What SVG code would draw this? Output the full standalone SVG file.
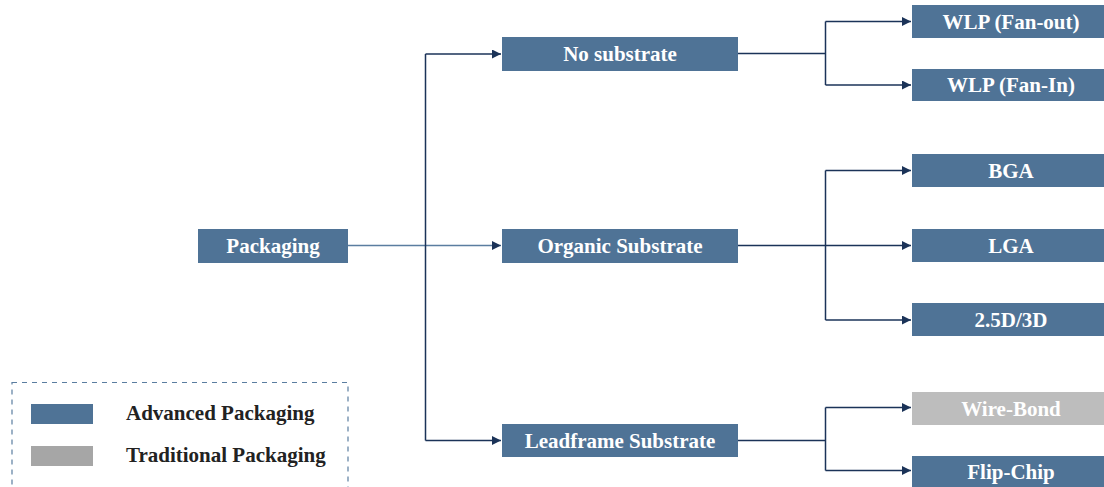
<svg xmlns="http://www.w3.org/2000/svg" width="1104" height="487" viewBox="0 0 1104 487">
<defs>
<marker id="ah" viewBox="0 0 10 10" refX="10" refY="5" markerWidth="9" markerHeight="9" markerUnits="userSpaceOnUse" orient="auto">
<path d="M0,0 L10,5 L0,10 z" fill="#1B3358"/>
</marker>
<style>
.n{fill:#4F7396}
.g{fill:#BDBDBD}
.t{font-family:"Liberation Serif","Times New Roman",serif;font-weight:bold;font-size:21px;fill:#fff;text-anchor:middle}
.lt{font-family:"Liberation Serif","Times New Roman",serif;font-weight:bold;font-size:21px;fill:#222}
.c{fill:none;stroke:#1B3358;stroke-width:1.5}
</style>
</defs>
<rect width="1104" height="487" fill="#fff"/>
<g id="connectors">
<path class="c" d="M348,245.5 H501" stroke="#5A7DA0" style="stroke:#5A7DA0" marker-end="url(#ah)"/>
<path class="c" d="M425.5,54 V440.5"/>
<path class="c" d="M425.5,54 H501" marker-end="url(#ah)"/>
<path class="c" d="M425.5,440.5 H501" marker-end="url(#ah)"/>
<path class="c" d="M738,53.5 H825.5"/>
<path class="c" d="M825.5,21.5 V85"/>
<path class="c" d="M825.5,21.5 H911" marker-end="url(#ah)"/>
<path class="c" d="M825.5,85 H911" marker-end="url(#ah)"/>
<path class="c" d="M738,245.5 H911" marker-end="url(#ah)"/>
<path class="c" d="M825.5,170.5 V320"/>
<path class="c" d="M825.5,170.5 H911" marker-end="url(#ah)"/>
<path class="c" d="M825.5,320 H911" marker-end="url(#ah)"/>
<path class="c" d="M738,440.5 H825.5"/>
<path class="c" d="M825.5,407.5 V470.5"/>
<path class="c" d="M825.5,407.5 H911" marker-end="url(#ah)"/>
<path class="c" d="M825.5,470.5 H911" marker-end="url(#ah)"/>
</g>
<g id="packaging"><rect class="n" x="198" y="229" width="150" height="34"/><text class="t" x="273" y="253">Packaging</text></g>
<g id="no-substrate"><rect class="n" x="502" y="37" width="236" height="34"/><text class="t" x="620" y="61">No substrate</text></g>
<g id="organic-substrate"><rect class="n" x="502" y="229" width="236" height="34"/><text class="t" x="620" y="253">Organic Substrate</text></g>
<g id="leadframe-substrate"><rect class="n" x="502" y="424" width="236" height="33"/><text class="t" x="620" y="448">Leadframe Substrate</text></g>
<g id="wlp-fan-out"><rect class="n" x="912" y="5" width="192" height="33"/><text class="t" x="1011" y="29">WLP (Fan-out)</text></g>
<g id="wlp-fan-in"><rect class="n" x="912" y="69" width="192" height="32"/><text class="t" x="1011" y="92">WLP (Fan-In)</text></g>
<g id="bga"><rect class="n" x="912" y="154" width="192" height="33"/><text class="t" x="1011" y="178">BGA</text></g>
<g id="lga"><rect class="n" x="912" y="229" width="192" height="33"/><text class="t" x="1011" y="253">LGA</text></g>
<g id="d25-3d"><rect class="n" x="912" y="303" width="192" height="33"/><text class="t" x="1011" y="327">2.5D/3D</text></g>
<g id="wire-bond"><rect class="g" x="912" y="392" width="192" height="33"/><text class="t" x="1011" y="416">Wire-Bond</text></g>
<g id="flip-chip"><rect class="n" x="912" y="456" width="192" height="31"/><text class="t" x="1011" y="479">Flip-Chip</text></g>
<g id="legend">
<rect x="12" y="382.5" width="336" height="120" fill="none" stroke="#5A7DA0" stroke-width="1.2" stroke-dasharray="5,5"/>
<rect x="31" y="404" width="62" height="20" fill="#4F7396"/>
<text class="lt" x="126" y="420">Advanced Packaging</text>
<rect x="31" y="446" width="62" height="20" fill="#A6A6A6"/>
<text class="lt" x="126" y="462">Traditional Packaging</text>
</g>
</svg>
